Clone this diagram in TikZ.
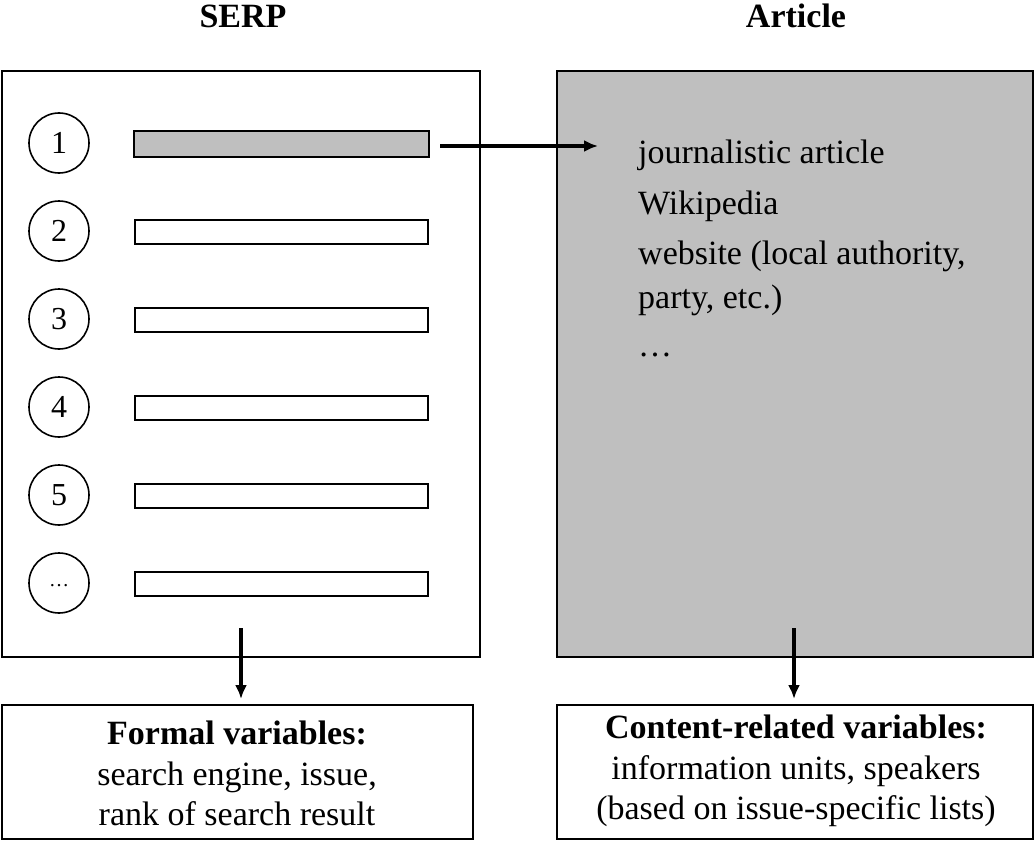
\documentclass[tikz,border=0pt]{standalone}
\usepackage{fontspec}
\setmainfont{Liberation Serif}
\usetikzlibrary{arrows.meta}
\tikzstyle{panel}=[draw, line width=2pt, inner sep=0pt]
\tikzstyle{hit}=[draw, line width=2pt, minimum width=293pt, minimum height=24pt, inner sep=0pt]
\tikzstyle{rank}=[circle, draw, line width=1.6pt, minimum size=60pt, inner sep=0pt,
	                  font=\fontsize{32}{38}\selectfont]
\tikzstyle{item}=[anchor=base west, inner sep=0pt, font=\fontsize{34}{40}\selectfont]
\tikzstyle{line}=[anchor=base, inner sep=0pt, font=\fontsize{34}{40}\selectfont]
\tikzstyle{arr}=[line width=3.2pt, -{Latex[length=14pt,width=12pt]}]
\definecolor{boxgray}{RGB}{191,191,191}

\begin{document}
\begin{tikzpicture}[x=1pt, y=-1pt]
\useasboundingbox (0,0) rectangle (1035,840);
\node[line, font=\fontsize{34}{40}\selectfont\bfseries] (serptitle) at (243,28) {SERP};
\node[line, font=\fontsize{34}{40}\selectfont\bfseries] (arttitle) at (796,28) {Article};
\node[panel, minimum width=478pt, minimum height=586pt] (serp) at (241,364) {};
\node[panel, fill=boxgray, minimum width=476pt, minimum height=586pt] (article) at (795,364) {};
% result list
\foreach \i/\t in {1/1,2/2,3/3,4/4,5/5,6/{\fontsize{20}{24}\selectfont\raisebox{-8pt}{\dots}}}
{
	\node[rank] (r\i) at (59,55+88*\i) {\t};
	\node[hit] (bar\i) at (281.5,56+88*\i) {};
};
\fill[boxgray] (bar1.south west) rectangle (bar1.north east);
\draw[line width=2pt] (bar1.south west) rectangle (bar1.north east);
% article types
\node[item] (jour) at (638,163) {journalistic article};
\node[item] (wiki) at (638,214) {Wikipedia};
\node[item] (web) at (638,264) {website (local authority,};
\node[item] (party) at (638,308) {party, etc.)};
\node[item] (more) at (638,356) {\dots};
\coordinate (arttip) at (598,146);
\draw[arr, shorten <=11pt] (bar1.east |- arttip) -- (arttip);
% variables
\node[panel, minimum width=471pt, minimum height=134pt] (formal) at (237.5,772) {};
\node[panel, minimum width=476pt, minimum height=134pt] (content) at (795,772) {};
\node[line] (formal1) at (237,744) {\textbf{Formal variables:}};
\node[line] (formal2) at (237,785) {search engine, issue,};
\node[line] (formal3) at (237,825) {rank of search result};
\node[line] (content1) at (796,738) {\textbf{Content-related variables:}};
\node[line] (content2) at (796,779) {information units, speakers};
\node[line] (content3) at (796,819) {(based on issue-specific lists)};
\coordinate (serpout) at (241,628);
\coordinate (artout) at (794,628);
\draw[arr, shorten >=5pt] (serpout) -- (serpout |- formal.north);
\draw[arr, shorten >=5pt] (artout) -- (artout |- content.north);
\end{tikzpicture}
\end{document}
